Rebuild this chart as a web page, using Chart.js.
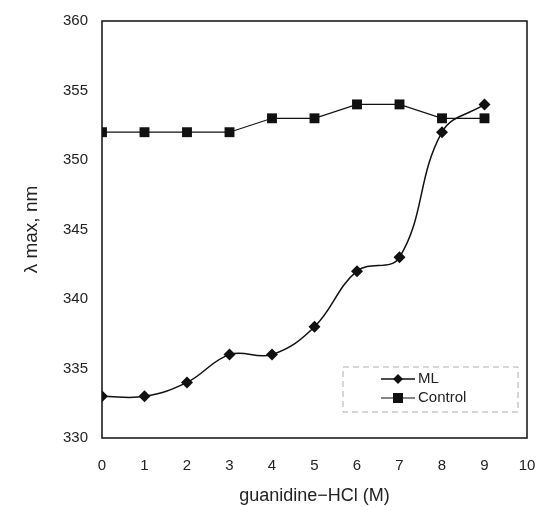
<!DOCTYPE html>
<html>
<head>
<meta charset="utf-8">
<script src="https://cdn.jsdelivr.net/npm/chart.js@4/dist/chart.umd.min.js"></script>
<style>
  html, body { margin: 0; padding: 0; background: #fff; }
  #wrap { width: 538px; height: 507px; }
</style>
</head>
<body>
<div id="wrap"><canvas id="lambda_chart" width="538" height="507"></canvas></div>
<script>
// guanidine-HCl concentration (M)
var conc = [0, 1, 2, 3, 4, 5, 6, 7, 8, 9];
var mlValues = [333, 333, 334, 336, 336, 338, 342, 343, 352, 354];
var controlValues = [352, 352, 352, 352, 353, 353, 354, 354, 353, 353];
var xTicks = [0, 1, 2, 3, 4, 5, 6, 7, 8, 9, 10];
var yTicks = [330, 335, 340, 345, 350, 355, 360];

function toPoints(xs, ys) {
    return xs.map(function (x, i) { return { x: x, y: ys[i] }; });
}

// frame round the plot area + legend box inside it
var framePlugin = {
    id: 'frame',
    afterDraw: function (chart) {
        var a = chart.chartArea, ctx = chart.ctx;
        ctx.save();
        ctx.strokeStyle = '#111';
        ctx.lineWidth = 1.5;
        ctx.strokeRect(a.left, a.top, a.right - a.left, a.bottom - a.top);

        // legend
        var bx = 343, by = 367, bw = 175, bh = 45;
        ctx.strokeStyle = '#999';
        ctx.lineWidth = 0.8;
        ctx.setLineDash([6, 4]);
        ctx.strokeRect(bx, by, bw, bh);
        ctx.setLineDash([]);
        ctx.font = '15px "Liberation Sans", Arial, sans-serif';
        ctx.textBaseline = 'middle';
        chart.data.datasets.forEach(function (ds, i) {
            var y = by + 12 + i * 19;
            ctx.strokeStyle = '#111';
            ctx.lineWidth = ds.borderWidth;
            ctx.beginPath();
            ctx.moveTo(bx + 38, y);
            ctx.lineTo(bx + 72, y);
            ctx.stroke();
            ctx.fillStyle = '#111';
            ctx.beginPath();
            if (ds.pointStyle === 'rectRot') {
                ctx.moveTo(bx + 55, y - 5);
                ctx.lineTo(bx + 60, y);
                ctx.lineTo(bx + 55, y + 5);
                ctx.lineTo(bx + 50, y);
                ctx.closePath();
            } else {
                ctx.rect(bx + 50, y - 5, 10, 10);
            }
            ctx.fill();
            ctx.fillStyle = '#222';
            ctx.fillText(ds.label, bx + 75, y);
        });
        ctx.restore();
    }
};

var ctx = document.getElementById('lambda_chart');
new Chart(ctx, {
    type: 'line',
    data: {
        datasets: [{
            label: 'ML',
            data: toPoints(conc, mlValues),
            borderColor: '#111',
            backgroundColor: '#111',
            borderWidth: 1.5,
            tension: 0.4,
            pointStyle: 'rectRot',
            pointRadius: 6,
            pointBorderWidth: 0
        }, {
            label: 'Control',
            data: toPoints(conc, controlValues),
            borderColor: '#111',
            backgroundColor: '#111',
            borderWidth: 1.2,
            tension: 0,
            pointStyle: 'rect',
            pointRadius: 7,
            pointBorderWidth: 0
        }]
    },
    options: {
        responsive: false,
        animation: false,
        layout: { padding: { top: 21, right: 11, left: 0, bottom: 0 } },
        plugins: { legend: { display: false }, tooltip: { enabled: false } },
        scales: {
            x: {
                type: 'linear',
                min: 0,
                max: 10,
                afterBuildTicks: function (s) { s.ticks = xTicks.map(function (v) { return { value: v }; }); },
                afterFit: function (s) { s.height = 69; s.paddingLeft = 0; s.paddingRight = 0; },
                grid: { display: false, drawTicks: false },
                border: { display: false },
                ticks: {
                    color: '#222',
                    padding: 19,
                    maxRotation: 0,
                    font: { family: '"Liberation Sans", Arial, sans-serif', size: 15 }
                },
                title: {
                    display: true,
                    text: 'guanidine\u2212HCl (M)',
                    color: '#222',
                    padding: { top: 2, bottom: 0 },
                    font: { family: '"Liberation Sans", Arial, sans-serif', size: 18 }
                }
            },
            y: {
                min: 330,
                max: 360,
                afterBuildTicks: function (s) { s.ticks = yTicks.map(function (v) { return { value: v }; }); },
                afterFit: function (s) { s.width = 102; s.paddingTop = 0; s.paddingBottom = 0; },
                grid: { display: false, drawTicks: false },
                border: { display: false },
                ticks: {
                    color: '#222',
                    padding: 14,
                    font: { family: '"Liberation Sans", Arial, sans-serif', size: 15 }
                },
                title: {
                    display: true,
                    text: '\u03bb max, nm',
                    color: '#222',
                    padding: { top: 20, bottom: 0 },
                    font: { family: '"Liberation Sans", Arial, sans-serif', size: 19 }
                }
            }
        }
    },
    plugins: [framePlugin]
});
</script>
</body>
</html>
